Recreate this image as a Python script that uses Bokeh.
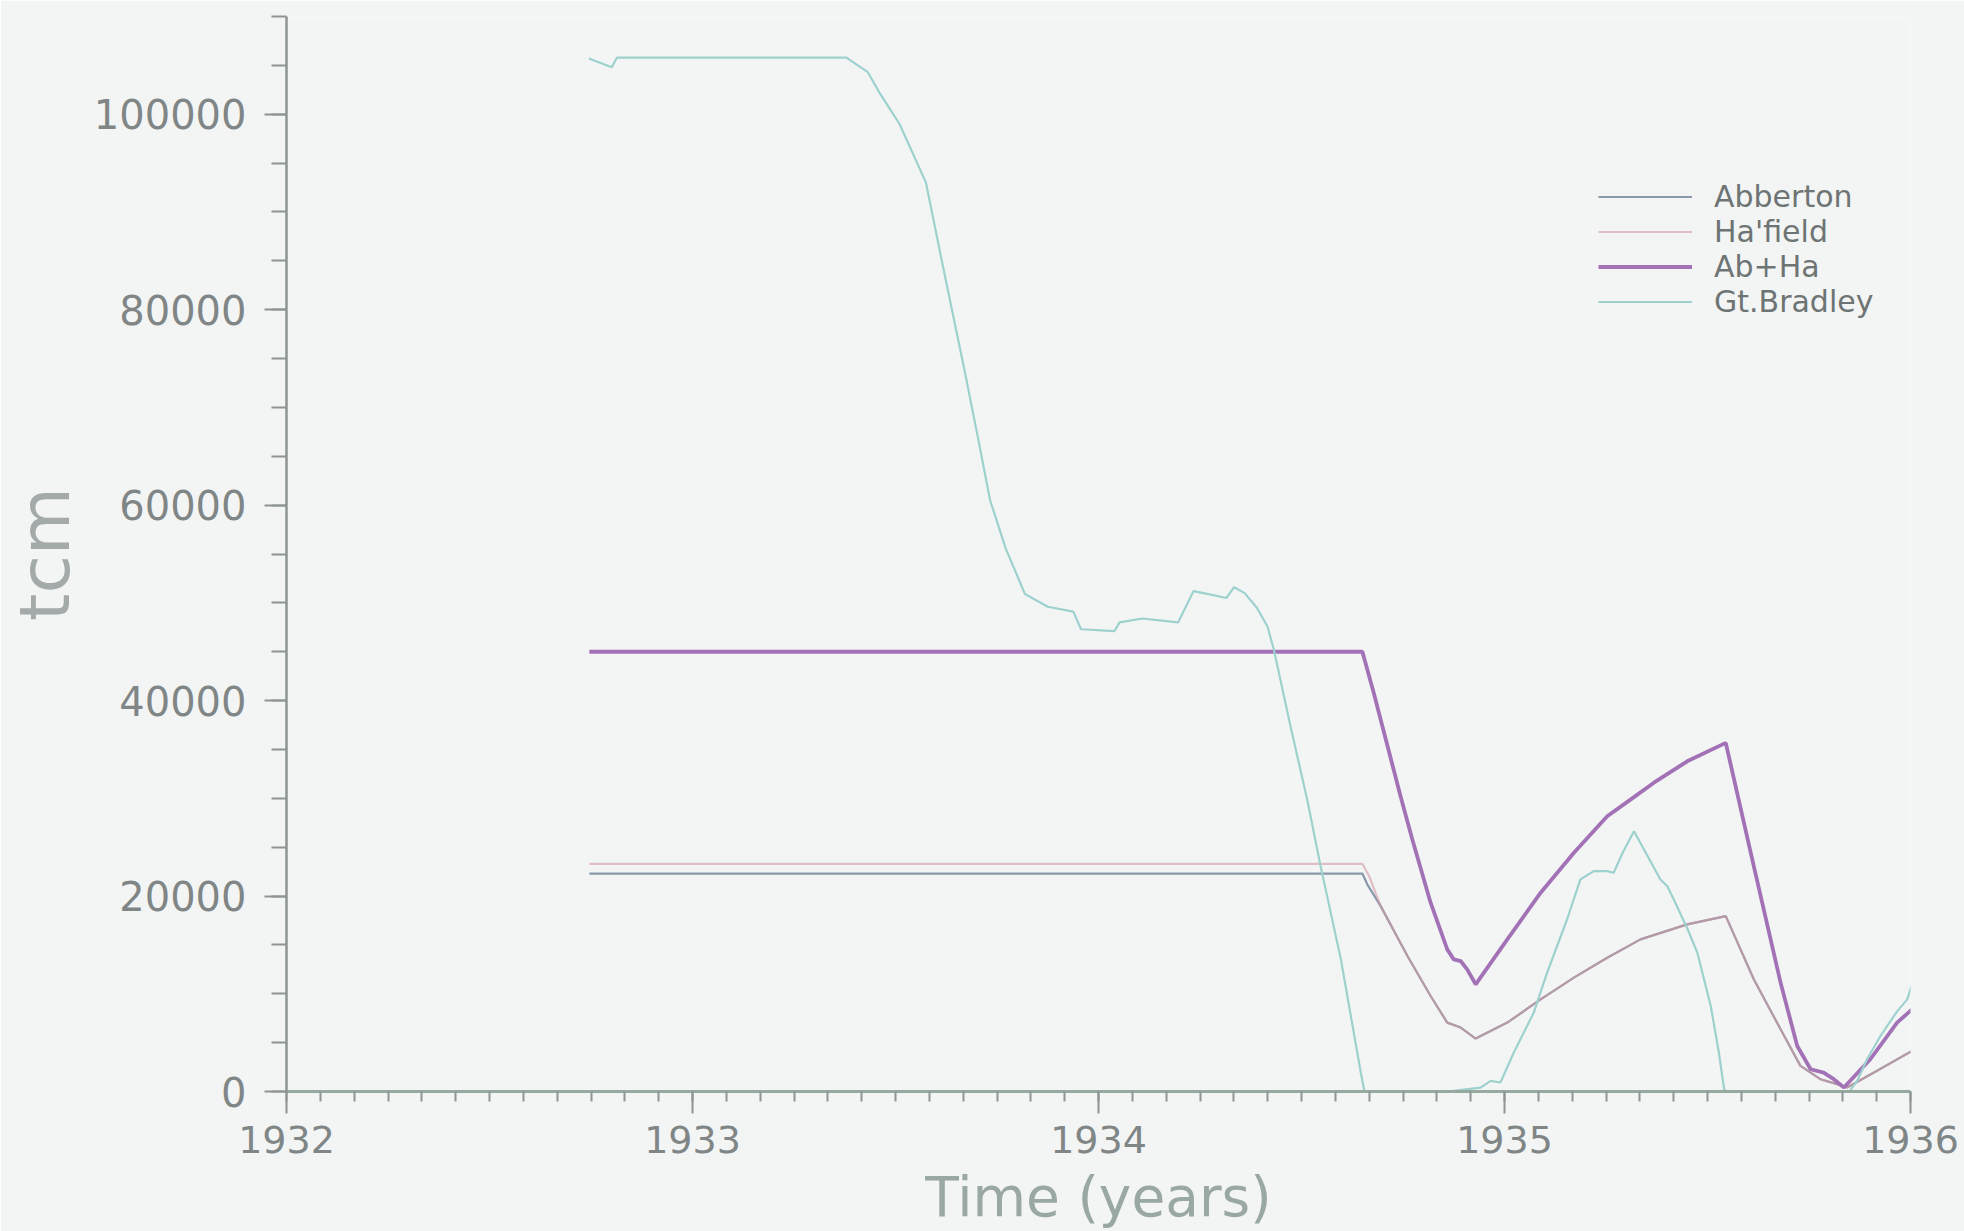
from bokeh.plotting import figure
from bokeh.models import SingleIntervalTicker, Legend, LegendItem, Range1d, PrintfTickFormatter
from bokeh.embed import file_html
from bokeh.resources import INLINE

# ---- data ----
abberton_t = [1932.746, 1934.650, 1934.662, 1934.695, 1934.761, 1934.818, 1934.859, 1934.892,
              1934.929, 1935.007, 1935.089, 1935.171, 1935.253, 1935.335, 1935.450, 1935.545,
              1935.614, 1935.680, 1935.729, 1935.778, 1935.819, 1935.844, 1935.910, 1936.004]
abberton_v = [22300, 22300, 21200, 18970, 13860, 9770, 7050, 6540,
              5420, 7050, 9430, 11650, 13690, 15570, 17100, 17950,
              11480, 6370, 2620, 1260, 750, 410, 1940, 4150]

hafield_t = [1932.746, 1934.650, 1934.667, 1934.695, 1934.761, 1934.818, 1934.859, 1934.892,
             1934.929, 1935.007, 1935.089, 1935.171, 1935.253, 1935.335, 1935.450, 1935.545,
             1935.614, 1935.680, 1935.729, 1935.778, 1935.819, 1935.844, 1935.910, 1936.004]
hafield_v = [23300, 23300, 22000, 18970, 13860, 9770, 7050, 6540,
             5420, 7050, 9430, 11650, 13690, 15570, 17100, 17950,
             11480, 6370, 2620, 1260, 750, 410, 1940, 4150]

abha_t = [1932.746, 1934.650, 1934.678, 1934.744, 1934.773, 1934.818, 1934.859, 1934.875,
          1934.892, 1934.908, 1934.929, 1935.007, 1935.089, 1935.171, 1935.253, 1935.318,
          1935.368, 1935.450, 1935.545, 1935.614, 1935.680, 1935.721, 1935.754, 1935.786,
          1935.811, 1935.836, 1935.901, 1935.967, 1936.004]
abha_v = [45000, 45000, 40780, 30210, 25790, 19320, 14540, 13520,
          13350, 12500, 10970, 15570, 20340, 24430, 28170, 30100,
          31600, 33790, 35670, 23060, 11140, 4660, 2280, 1940,
          1260, 410, 3300, 7050, 8410]

bradley_t = [1932.745, 1932.801, 1932.814, 1933.379, 1933.432, 1933.462, 1933.510, 1933.575,
             1933.620, 1933.670, 1933.705, 1933.733, 1933.772, 1933.819, 1933.875, 1933.938,
             1933.957, 1934.039, 1934.052, 1934.108, 1934.196, 1934.234, 1934.271, 1934.315,
             1934.334, 1934.360, 1934.390, 1934.416, 1934.432, 1934.473, 1934.514, 1934.547,
             1934.597, 1934.646, 1934.655, 1934.860, 1934.920, 1934.941, 1934.966, 1934.990,
             1935.023, 1935.072, 1935.105, 1935.154, 1935.187, 1935.220, 1935.253, 1935.269,
             1935.291, 1935.319, 1935.384, 1935.401, 1935.417, 1935.450, 1935.475, 1935.508,
             1935.528, 1935.541, 1935.548, 1935.850, 1935.870, 1935.893, 1935.926, 1935.967,
             1935.992, 1936.004]
bradley_v = [105700, 104800, 105800, 105800, 104300, 102100, 99000, 93000,
             83800, 73800, 66500, 60500, 55500, 50900, 49600, 49100,
             47300, 47100, 48000, 48400, 48000, 51200, 50900, 50500,
             51600, 51000, 49500, 47600, 45200, 37360, 29870, 23060,
             13520, 1940, 0, 0, 300, 400, 1080, 920,
             3990, 8070, 12160, 17600, 21700, 22550, 22550, 22380,
             24430, 26630, 21700, 21010, 19650, 16700, 14200, 8750,
             3990, 230, 0, 0, 1200, 3300, 5680, 8200,
             9430, 11000]

series_names = ["Abberton", "Ha'field", "Ab+Ha", "Gt.Bradley"]
x_label = "Time (years)"
y_label = "tcm"

BG = "#f3f5f5"

p = figure(width=1964, height=1231, output_backend="svg", toolbar_location=None,
           x_range=Range1d(1932, 1936), y_range=Range1d(0, 110000),
           min_border_left=286, min_border_right=54, min_border_top=16, min_border_bottom=139)
p.background_fill_color = BG
p.border_fill_color = BG
p.outline_line_color = None
p.grid.visible = False

r_ab = p.line(abberton_t, abberton_v, line_color="#8a98ac", line_width=2.2)
r_ha = p.line(hafield_t, hafield_v, line_color="#d29aa4", line_width=2.2, line_alpha=0.6)
r_abha = p.line(abha_t, abha_v, line_color="#a271b6", line_width=3.8)
r_br = p.line(bradley_t, bradley_v, line_color="#9dd1cd", line_width=2.2)

# x axis
xa = p.xaxis[0]
xa.ticker = SingleIntervalTicker(interval=1, num_minor_ticks=12)
xa.formatter = PrintfTickFormatter(format="%d")
xa.axis_line_color = "#96aaa0"
xa.axis_line_width = 3
xa.major_tick_line_color = "#8e9494"
xa.minor_tick_line_color = "#8e9494"
xa.major_tick_line_width = 2
xa.minor_tick_line_width = 2
xa.major_tick_in = 0
xa.major_tick_out = 22
xa.minor_tick_in = 0
xa.minor_tick_out = 10
xa.major_label_standoff = 12
xa.major_label_text_font = "DejaVu Sans"
xa.major_label_text_font_size = "38px"
xa.major_label_text_color = "#808686"
xa.axis_label = x_label
xa.axis_label_text_font = "DejaVu Sans"
xa.axis_label_text_font_size = "55px"
xa.axis_label_text_font_style = "normal"
xa.axis_label_text_color = "#9aa8a4"
xa.axis_label_text_line_height = 0.7
xa.axis_label_standoff = 9

# y axis
ya = p.yaxis[0]
ya.ticker = SingleIntervalTicker(interval=20000, num_minor_ticks=4)
ya.formatter = PrintfTickFormatter(format="%d")
ya.axis_line_color = "#8e9494"
ya.axis_line_width = 2.5
ya.major_tick_line_color = "#8e9494"
ya.minor_tick_line_color = "#8e9494"
ya.major_tick_line_width = 2
ya.minor_tick_line_width = 2
ya.major_tick_in = 0
ya.major_tick_out = 22
ya.minor_tick_in = 0
ya.minor_tick_out = 15
ya.major_label_standoff = 18
ya.major_label_text_font = "DejaVu Sans"
ya.major_label_text_font_size = "40px"
ya.major_label_text_color = "#808686"
ya.axis_label = y_label
ya.axis_label_text_font = "DejaVu Sans"
ya.axis_label_text_font_size = "70px"
ya.axis_label_text_font_style = "normal"
ya.axis_label_text_color = "#a4aaaa"
ya.axis_label_text_line_height = 0.8
ya.axis_label_standoff = 5

legend = Legend(items=[LegendItem(label=series_names[0], renderers=[r_ab]),
                       LegendItem(label=series_names[1], renderers=[r_ha]),
                       LegendItem(label=series_names[2], renderers=[r_abha]),
                       LegendItem(label=series_names[3], renderers=[r_br])],
                location=(1312, 772))
legend.label_text_font = "DejaVu Sans"
legend.label_text_font_size = "30px"
legend.label_text_color = "#6e7474"
legend.label_height = 35
legend.glyph_height = 35
legend.glyph_width = 94
legend.spacing = 0
legend.padding = 0
legend.margin = 0
legend.label_standoff = 22
legend.border_line_alpha = 0
legend.background_fill_alpha = 0
p.add_layout(legend)

open("out.html", "w").write(file_html(p, INLINE))
